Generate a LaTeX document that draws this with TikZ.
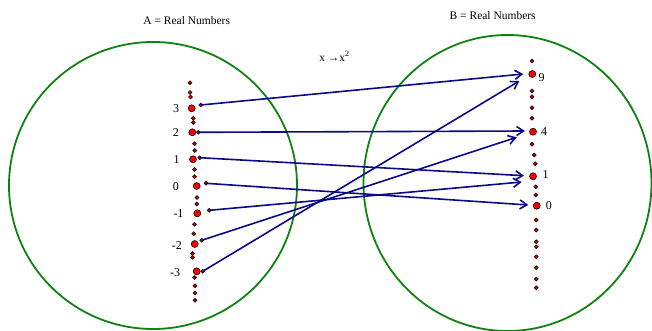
\documentclass[tikz,border=0pt]{standalone}
\usepackage{fontspec}
\setmainfont{Liberation Serif}
\usetikzlibrary{arrows.meta}
\definecolor{setgreen}{RGB}{16,130,16}
\definecolor{mapblue}{RGB}{10,10,135}
\tikzset{
  setc/.style={draw=setgreen,line width=1.8pt},                     % set boundary
  bdot/.style={circle,draw=black,fill=red,inner sep=0pt,minimum size=7pt,line width=0.6pt},   % labelled value
  sdot/.style={circle,draw=black,fill=red!85!black,inner sep=0pt,minimum size=3.9pt,line width=0.6pt}, % filler point
  maparr/.style={-{Straight Barb[length=7pt,width=9pt,line width=1.6pt]},mapblue,line width=1.6pt},
  val/.style={anchor=west,inner sep=0pt,font=\fontsize{12}{14}\selectfont},
  ttl/.style={inner sep=0pt,font=\fontsize{11.5}{14}\selectfont},
}

\begin{document}
\begin{tikzpicture}[x=1pt,y=-1pt]
  \useasboundingbox (0,0) rectangle (652,331);
  % the two sets
  \draw[setc] (153,185.5) ellipse [x radius=144pt,y radius=143.5pt];
  \draw[setc] (507.5,183) ellipse [x radius=144pt,y radius=148pt];
  \node[ttl] (tA) at (186.7,21) {A = Real Numbers};
  \node[ttl] (tB) at (492.7,16) {B = Real Numbers};
  \node[ttl] (rule) at (334.5,56.5) {x →x\textsuperscript{2}};
  % domain
  \foreach \x/\y in {190/82.7,190/92.5,190.5/97,193.3/118.2,193.3/122.5,194.5/143.7,194.8/150.5,
                     194.5/169.5,194.5/176.8,197/197.5,196.8/204,194.5/224.2,193.8/233.7,
                     192.5/253.5,192.5/257.3,194.5/277.5,195/285.7,195/293,195/300.3}
    \node[sdot] at (\x,\y) {};
  \foreach \n/\x/\y in {3/191.7/108.3, 2/192.3/132.3, 1/193/159.3,
                        0/196.7/186, m1/197.3/213.3, m2/194.7/244, m3/196.7/271.3}
    \node[bdot] (a\n) at (\x,\y) {};
  \node[val] at (173,108.8) {3};
  \node[val] at (172.7,132.8) {2};
  \node[val] at (173.3,160) {1};
  \node[val] at (172.7,187) {0};
  \node[val] at (173.3,214) {-1};
  \node[val] at (171.7,246) {-2};
  \node[val] at (170,273) {-3};
  \foreach \n/\x/\y in {3/200.7/105, 2/198.3/132.3, 1/199.7/157.7, 0/206/183.3,
                        m1/209.3/210.3, m2/201.7/240.3, m3/202.7/271.3}
    \node[sdot] (t\n) at (\x,\y) {};
  % codomain
  \foreach \y in {61,91,96.7,107.7,118.3,144.3}
    \node[sdot] at (532,\y) {};
  \foreach \x/\y in {534.3/155,535.3/163.7,535.7/186.7,535.7/195,536.3/220,536.3/230,536.3/241.7,
                     536.3/246.7,536.3/256.7,536.3/267.7,536.3/279,536.3/287.7}
    \node[sdot] at (\x,\y) {};
  \node[bdot] (b9) at (532.3,74) {};
  \node[bdot] (b4) at (533,131.7) {};
  \node[bdot] (b1) at (533,176.3) {};
  \node[bdot] (b0) at (536.7,205.7) {};
  \node[val] at (538.3,77.5) {9};
  \node[val] at (541,132) {4};
  \node[val] at (542.3,174.8) {1};
  \node[val] at (545.7,206) {0};
  % arrow tips
  \coordinate (h3) at (523.3,74);
  \coordinate (h2) at (525,131);
  \coordinate (h1) at (524,175.7);
  \coordinate (h0) at (528.3,205);
  \coordinate (hm1) at (521.7,182);
  \coordinate (hm2) at (516.7,137.3);
  \coordinate (hm3) at (519.3,81);
  \foreach \n in {3,2,1,0,m1,m2,m3}
    \draw[maparr] (t\n.center) -- (h\n);
\end{tikzpicture}
\end{document}
